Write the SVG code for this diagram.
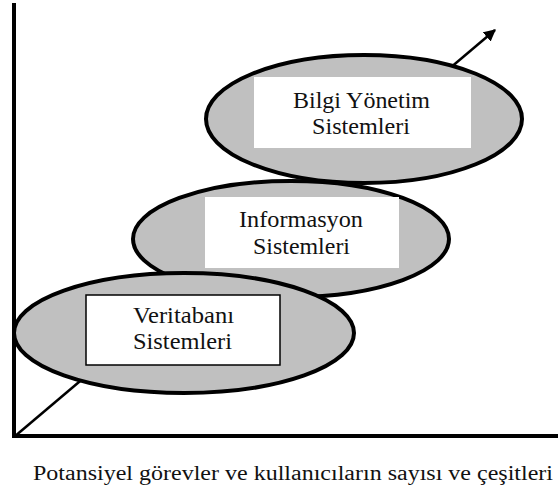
<svg xmlns="http://www.w3.org/2000/svg" width="558" height="493" viewBox="0 0 558 493">
<style>
.ell{fill:#c0c0c0;stroke:#000;stroke-width:4}
.box{fill:#fff}
.boxb{fill:#fff;stroke:#000;stroke-width:1.5}
.t{font-family:'Liberation Serif','DejaVu Serif',serif;font-size:23px;fill:#111;text-anchor:middle}
.cap{font-family:'Liberation Serif','DejaVu Serif',serif;font-size:20px;fill:#111}
.axis{stroke:#000;stroke-width:4;fill:none}
</style>
<defs>
<marker id="ah" markerWidth="12" markerHeight="12" refX="9" refY="5" orient="auto" markerUnits="userSpaceOnUse" viewBox="0 0 10 10">
<path d="M0,0 L10,5 L0,10 Z" fill="#000"/>
</marker>
</defs>
<g id="connectors">
<line x1="14" y1="437" x2="495" y2="30" stroke="#000" stroke-width="2.5" marker-end="url(#ah)"/>
</g>
<g id="axes">
<line class="axis" x1="14" y1="3" x2="14" y2="438"/>
<line class="axis" x1="12" y1="436" x2="558" y2="436"/>
</g>
<g id="node-bilgi">
<ellipse class="ell" cx="364" cy="119" rx="158" ry="64"/>
<rect class="box" x="254" y="77" width="217" height="71"/>
<text class="t" x="361.5" y="108" textLength="137" lengthAdjust="spacingAndGlyphs">Bilgi Yönetim</text>
<text class="t" x="361" y="134" textLength="98" lengthAdjust="spacingAndGlyphs">Sistemleri</text>
</g>
<g id="node-informasyon">
<ellipse class="ell" cx="291" cy="239" rx="158" ry="58"/>
<rect class="box" x="205" y="197" width="194" height="71"/>
<text class="t" x="301" y="227" textLength="124" lengthAdjust="spacingAndGlyphs">Informasyon</text>
<text class="t" x="301.5" y="254" textLength="97" lengthAdjust="spacingAndGlyphs">Sistemleri</text>
</g>
<g id="node-veritabani">
<ellipse class="ell" cx="184" cy="333" rx="170" ry="60"/>
<rect class="boxb" x="86" y="295" width="194" height="70"/>
<text class="t" x="183.5" y="323" textLength="101" lengthAdjust="spacingAndGlyphs">Veritabanı</text>
<text class="t" x="182.5" y="349" textLength="99" lengthAdjust="spacingAndGlyphs">Sistemleri</text>
</g>
<g id="caption">
<text class="cap" x="33" y="480" textLength="520" lengthAdjust="spacingAndGlyphs">Potansiyel görevler ve kullanıcıların sayısı ve çeşitleri</text>
</g>
</svg>
